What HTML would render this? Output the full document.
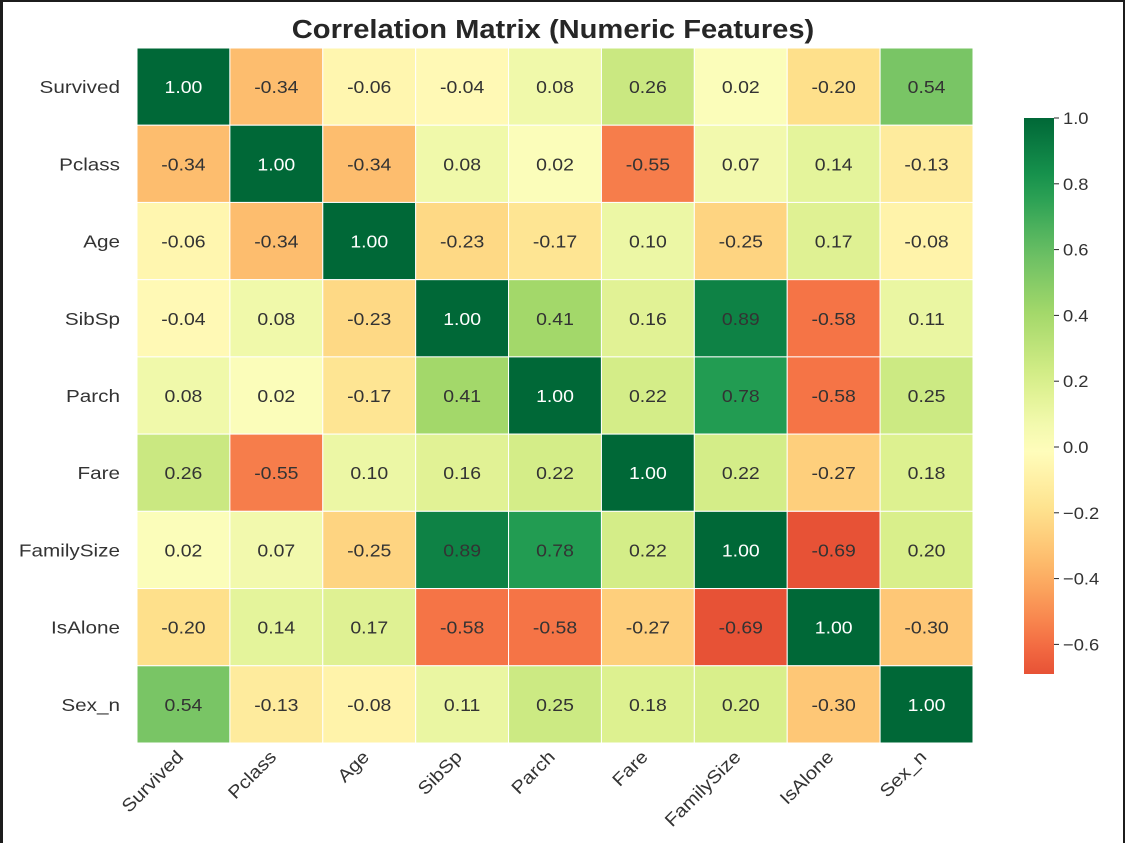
<!DOCTYPE html>
<html><head><meta charset="utf-8"><style>
body{margin:0;background:#fff;}
#wrap{position:relative;width:1125px;height:843px;background:#fff;overflow:hidden;}
svg text{font-family:"Liberation Sans",Arial,sans-serif;}
</style></head><body>
<div id="wrap">
<svg id="chart" width="1125" height="843">
<rect x="0" y="0" width="1125" height="2" fill="#1c1c1c"/>
<rect x="0" y="0" width="3" height="843" fill="#1c1c1c"/>
<rect x="1123" y="0" width="2" height="843" fill="#1c1c1c"/>
<g transform="translate(553,38) scale(1.12,1)"><text x="0" y="0" text-anchor="middle" font-size="26" font-weight="bold" fill="#262626">Correlation Matrix (Numeric Features)</text></g>
<g id="cells"></g><g id="ylabels"></g><g id="xlabels"></g>
<defs><linearGradient id="cbgrad" x1="0" y1="1" x2="0" y2="0"></linearGradient></defs>
<g id="cbar"></g>
</svg>
</div>
<script>
const labels=["Survived","Pclass","Age","SibSp","Parch","Fare","FamilySize","IsAlone","Sex_n"];
const row0=[1.00,-0.34,-0.06,-0.04,0.08,0.26,0.02,-0.20,0.54];
const row1=[-0.34,1.00,-0.34,0.08,0.02,-0.55,0.07,0.14,-0.13];
const row2=[-0.06,-0.34,1.00,-0.23,-0.17,0.10,-0.25,0.17,-0.08];
const row3=[-0.04,0.08,-0.23,1.00,0.41,0.16,0.89,-0.58,0.11];
const row4=[0.08,0.02,-0.17,0.41,1.00,0.22,0.78,-0.58,0.25];
const row5=[0.26,-0.55,0.10,0.16,0.22,1.00,0.22,-0.27,0.18];
const row6=[0.02,0.07,-0.25,0.89,0.78,0.22,1.00,-0.69,0.20];
const row7=[-0.20,0.14,0.17,-0.58,-0.58,-0.27,-0.69,1.00,-0.30];
const row8=[0.54,-0.13,-0.08,0.11,0.25,0.18,0.20,-0.30,1.00];
const matrix=[row0,row1,row2,row3,row4,row5,row6,row7,row8];
const cbTicks=[1.0,0.8,0.6,0.4,0.2,0.0,-0.2,-0.4,-0.6];
const stops=["#a50026","#d73027","#f46d43","#fdae61","#fee08b","#ffffbf","#d9ef8b","#a6d96a","#66bd63","#1a9850","#006837"];
function hex(h){return [1,3,5].map(i=>parseInt(h.substr(i,2),16));}
function cmap(v){let t=(v+1)/2;t=Math.max(0,Math.min(1,t));const p=t*10;const i=Math.min(9,Math.floor(p));const f=p-i;const a=hex(stops[i]),b=hex(stops[i+1]);return "rgb("+a.map((c,k)=>Math.round(c+(b[k]-c)*f)).join(",")+")";}
const NS="http://www.w3.org/2000/svg";
const X0=137,X1=973,Y0=48,Y1=743,n=labels.length;
const cw=(X1-X0)/n,ch=(Y1-Y0)/n;
function xs(j){return X0+j*cw;} function ys(i){return Y0+i*ch;}
function mk(tag,attrs,parent){const e=document.createElementNS(NS,tag);for(const k in attrs)e.setAttribute(k,attrs[k]);parent.appendChild(e);return e;}
function stxt(parent,x,y,str,attrs,rot,sx){
 const g=mk('g',{transform:'translate('+x+','+y+')'+(rot?' rotate('+rot+')':'')+' scale('+(sx||1.08)+',1)'},parent);
 const t=mk('text',Object.assign({x:0,y:0},attrs),g);
 t.textContent=str;return t;
}
const gc=document.getElementById('cells');
matrix.forEach((row,i)=>row.forEach((v,j)=>{
 const r=mk('rect',{x:xs(j),y:ys(i),width:cw,height:ch,fill:cmap(v),stroke:'#fff','stroke-width':1},gc);
 
 
 const t=stxt(gc,xs(j)+cw/2,ys(i)+ch/2+6.5,v.toFixed(2),{'text-anchor':'middle','font-size':18,fill:v>0.95?'#ffffff':'#333333'});
 
 
}));
const gy=document.getElementById('ylabels'),gx=document.getElementById('xlabels');
labels.forEach((l,i)=>{
 const t=stxt(gy,120,ys(i)+ch/2+6.5,l,{'text-anchor':'end','font-size':18,fill:'#333333'},0,1.15);
 
 
 const u=stxt(gx,xs(i)+cw/2+1,758,l,{'text-anchor':'end','font-size':18,fill:'#333333'},-45,1.12);
 
 
});
const CBX=1024,CBW=30,CBT=118,CBB=674,vmax=1.0,vmin=-0.69;
function cy(v){return CBT+(vmax-v)/(vmax-vmin)*(CBB-CBT);}
const grad=document.getElementById('cbgrad');
for(let k=0;k<=20;k++){const v=vmin+(vmax-vmin)*k/20;mk('stop',{offset:(k/20),'stop-color':cmap(v)},grad);}
const gb=document.getElementById('cbar');
const cb=mk('rect',{x:CBX,y:CBT,width:CBW,height:CBB-CBT,fill:'url(#cbgrad)'},gb);


cbTicks.forEach(v=>{
 const y=cy(v);
 mk('line',{x1:CBX+CBW,x2:CBX+CBW+5,y1:y,y2:y,stroke:'#262626','stroke-width':1},gb);
 const t=stxt(gb,CBX+CBW+9,y+6,(v<0?'\u2212':'')+Math.abs(v).toFixed(1),{'font-size':17,fill:'#333333'});
 
 
});
</script>
</body></html>
